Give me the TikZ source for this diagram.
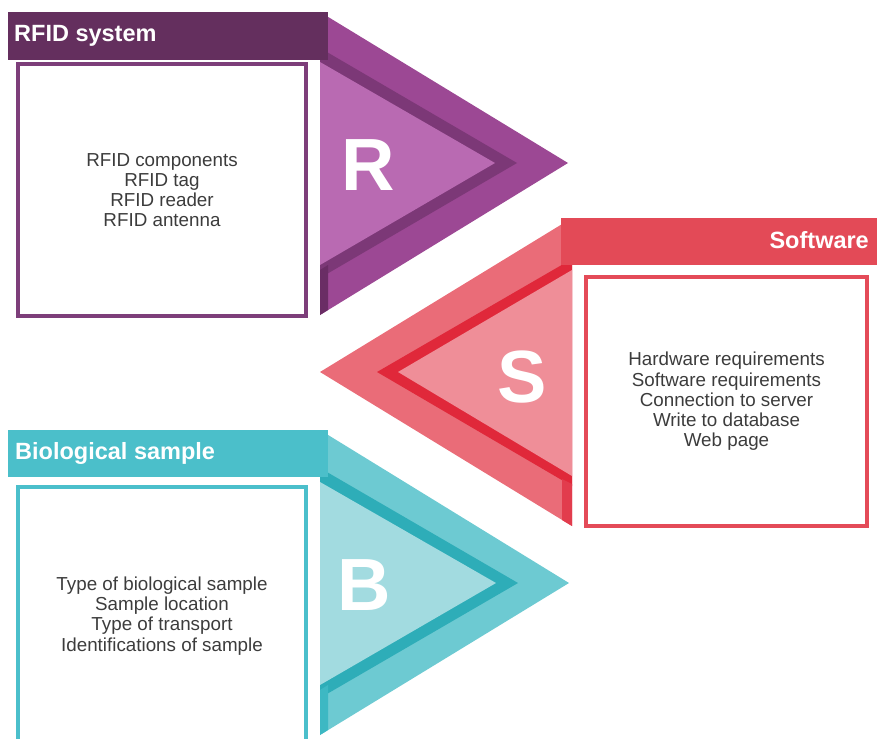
\documentclass[tikz,border=0pt]{standalone}
\usepackage{fontspec}
\setmainfont{Liberation Sans}
\usepackage{xcolor}

% purple (R), red (S), teal (B)
\definecolor{rhead}{HTML}{642F5E}
\definecolor{rband}{HTML}{9C4894}
\definecolor{rstripe}{HTML}{7C3877}
\definecolor{rlight}{HTML}{B96AB2}
\definecolor{rside}{HTML}{6A2D65}
\definecolor{rline}{HTML}{7D3E7A}
\definecolor{shead}{HTML}{E34A57}
\definecolor{sband}{HTML}{EA6C78}
\definecolor{sstripe}{HTML}{E0283A}
\definecolor{slight}{HTML}{EF8E98}
\definecolor{sside}{HTML}{E23C4D}
\definecolor{sline}{HTML}{E44B58}
\definecolor{bhead}{HTML}{4BBFCA}
\definecolor{bband}{HTML}{6DCAD2}
\definecolor{bstripe}{HTML}{2EADB8}
\definecolor{blight}{HTML}{A2DBE0}
\definecolor{bside}{HTML}{3DB8C3}
\definecolor{bline}{HTML}{4BBFCB}
\definecolor{listtext}{HTML}{3C3C3C}

\begin{document}
\begin{tikzpicture}[
    x=1pt, y=-1pt,
    item/.style={rectangle, draw, line width=4pt, minimum width=288pt, minimum height=252pt,
        align=center, text=listtext, font=\fontsize{18.8}{20.2}\selectfont},
    head/.style={inner sep=0pt, text=white, font=\bfseries\fontsize{23.5}{26}\selectfont},
    letter/.style={anchor=base west, inner sep=0pt, text=white, font=\bfseries\fontsize{74}{80}\selectfont},
]
\clip (0,0) rectangle (877,738);

% R arrow
\fill[rband] (320,12) -- (568,163) -- (320,315) -- cycle;
\fill[rstripe] (320,48) -- (517,163) -- (320,278) -- cycle;
\fill[rlight] (320,62) -- (495,163) -- (320,265) -- cycle;
\fill[rside] (320,270) -- (328,265) -- (328,310) -- (320,315) -- cycle;
\fill[rhead] (8,12) rectangle (328,60);
\node[head, anchor=base west] (rtitle) at (14,42) {RFID system};
\node[letter] (rletter) at (341,190) {R};
\node[item, draw=rline] (rlist) at (162,190) {RFID components\\RFID tag\\RFID reader\\RFID antenna};

% S arrow
\fill[sband] (572,218) -- (320,372) -- (572,526) -- cycle;
\fill[sstripe] (572,259) -- (377,372) -- (572,486) -- cycle;
\fill[slight] (572,270) -- (398,372) -- (572,476) -- cycle;
\fill[sside] (562,479) -- (572,484) -- (572,526) -- (562,520) -- cycle;
\fill[shead] (561,218) rectangle (877,265);
\node[head, anchor=base east] (stitle) at (869,248) {Software};
\node[letter] (sletter) at (497,402) {S};
\node[item, draw=sline, minimum width=281pt, minimum height=249pt] (slist) at (726.5,401.5)
    {Hardware requirements\\Software requirements\\Connection to server\\Write to database\\Web page};

% B arrow
\fill[bband] (320,430) -- (569,583) -- (320,735) -- cycle;
\fill[bstripe] (320,468) -- (518,583) -- (320,698) -- cycle;
\fill[blight] (320,482) -- (496,583) -- (320,685) -- cycle;
\fill[bside] (320,690) -- (328,685) -- (328,730) -- (320,735) -- cycle;
\fill[bhead] (8,430) rectangle (328,477);
\node[head, anchor=base west] (btitle) at (15,459) {Biological sample};
\node[letter] (bletter) at (337,610) {B};
\node[item, draw=bline, anchor=north, minimum height=258pt] (blist) at (162,485)
    {Type of biological sample\\Sample location\\Type of transport\\Identifications of sample};
\end{tikzpicture}
\end{document}
